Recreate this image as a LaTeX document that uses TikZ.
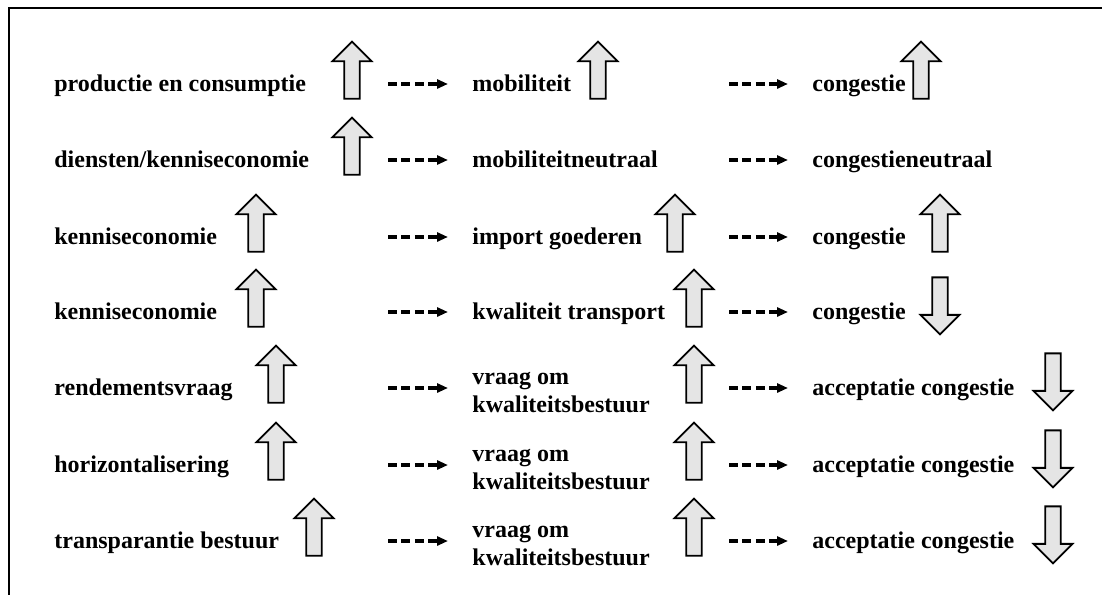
\documentclass[tikz,border=0pt]{standalone}
\usepackage{fontspec}
\setmainfont{Liberation Serif}
\usetikzlibrary{shapes.arrows,arrows.meta}

\begin{document}
\begin{tikzpicture}[x=0.5pt,y=-0.5pt,
		lbl/.style={anchor=west,inner sep=0pt,font=\fontsize{12}{14}\selectfont\bfseries,text height=9pt,text depth=2pt},
		lbltwo/.style={anchor=west,inner sep=0pt,align=left,font=\fontsize{12}{14}\selectfont\bfseries},
		blk/.style={single arrow,draw,fill=gray!20,line width=0.9pt,minimum height=28.5pt,inner xsep=0pt,inner ysep=3.4pt,single arrow head extend=5.9pt,single arrow tip angle=90},
		blkup/.style={blk,rotate=90},
		blkdown/.style={blk,rotate=-90},
		dasharr/.style={dash pattern=on 4.5pt off 2.2pt,line width=1.6pt,-{Triangle[length=5.5pt,width=4.5pt]},shorten >=12pt}]
			\useasboundingbox (0,0) rectangle (1102,595);
			\draw[line width=1pt] (1102,8)--(9,8)--(9,595);
			% oorzaken
			\node[lbl] (a1) at (54,84) {productie en consumptie};
			\node[lbl] (a2) at (54,160) {diensten/kenniseconomie};
			\node[lbl] (a3) at (54,237) {kenniseconomie};
			\node[lbl] (a4) at (54,312) {kenniseconomie};
			\node[lbl] (a5) at (54,388) {rendementsvraag};
			\node[lbl] (a6) at (54,465) {horizontalisering};
			\node[lbl] (a7) at (54,541) {transparantie bestuur};
			\node[blkup] (pa1) at (352,74) {};
			\node[blkup] (pa2) at (352,150) {};
			\node[blkup] (pa3) at (256,227) {};
			\node[blkup] (pa4) at (256,302) {};
			\node[blkup] (pa5) at (276,378) {};
			\node[blkup] (pa6) at (276,455) {};
			\node[blkup] (pa7) at (314,531) {};
			% tussenstap
			\node[lbl] (b1) at (472,84) {mobiliteit};
			\node[lbl] (b2) at (472,160) {mobiliteitneutraal};
			\node[lbl] (b3) at (472,237) {import goederen};
			\node[lbl] (b4) at (472,312) {kwaliteit transport};
			\node[lbltwo] (b5) at (472,392) {vraag om\\kwaliteitsbestuur};
			\node[lbltwo] (b6) at (472,469) {vraag om\\kwaliteitsbestuur};
			\node[lbltwo] (b7) at (472,545) {vraag om\\kwaliteitsbestuur};
			\node[blkup] (pb1) at (598,74) {};
			\node[blkup] (pb3) at (675,227) {};
			\node[blkup] (pb4) at (694,302) {};
			\node[blkup] (pb5) at (694,378) {};
			\node[blkup] (pb6) at (694,455) {};
			\node[blkup] (pb7) at (694,531) {};
			% gevolgen
			\node[lbl] (c1) at (812,84) {congestie};
			\node[lbl] (c2) at (812,160) {congestieneutraal};
			\node[lbl] (c3) at (812,237) {congestie};
			\node[lbl] (c4) at (812,312) {congestie};
			\node[lbl] (c5) at (812,388) {acceptatie congestie};
			\node[lbl] (c6) at (812,465) {acceptatie congestie};
			\node[lbl] (c7) at (812,541) {acceptatie congestie};
			\node[blkup] (pc1) at (921,74) {};
			\node[blkup] (pc3) at (940,227) {};
			\node[blkdown] (pc4) at (940,302) {};
			\node[blkdown] (pc5) at (1053,378) {};
			\node[blkdown] (pc6) at (1053,455) {};
			\node[blkdown] (pc7) at (1053,531) {};
			% gestippelde pijlen
			\coordinate (s1) at (388,84);
			\coordinate (s2) at (388,160);
			\coordinate (s3) at (388,237);
			\coordinate (s4) at (388,312);
			\coordinate (s5) at (388,388);
			\coordinate (s6) at (388,465);
			\coordinate (s7) at (388,541);
			\coordinate (t1) at (729,84);
			\coordinate (t2) at (729,160);
			\coordinate (t3) at (729,237);
			\coordinate (t4) at (729,312);
			\coordinate (t5) at (729,388);
			\coordinate (t6) at (729,465);
			\coordinate (t7) at (729,541);
			\draw[dasharr] (s1)--(s1-|b1.west);
			\draw[dasharr] (s2)--(s2-|b2.west);
			\draw[dasharr] (s3)--(s3-|b3.west);
			\draw[dasharr] (s4)--(s4-|b4.west);
			\draw[dasharr] (s5)--(s5-|b5.west);
			\draw[dasharr] (s6)--(s6-|b6.west);
			\draw[dasharr] (s7)--(s7-|b7.west);
			\draw[dasharr] (t1)--(t1-|c1.west);
			\draw[dasharr] (t2)--(t2-|c2.west);
			\draw[dasharr] (t3)--(t3-|c3.west);
			\draw[dasharr] (t4)--(t4-|c4.west);
			\draw[dasharr] (t5)--(t5-|c5.west);
			\draw[dasharr] (t6)--(t6-|c6.west);
			\draw[dasharr] (t7)--(t7-|c7.west);
\end{tikzpicture}
\end{document}
